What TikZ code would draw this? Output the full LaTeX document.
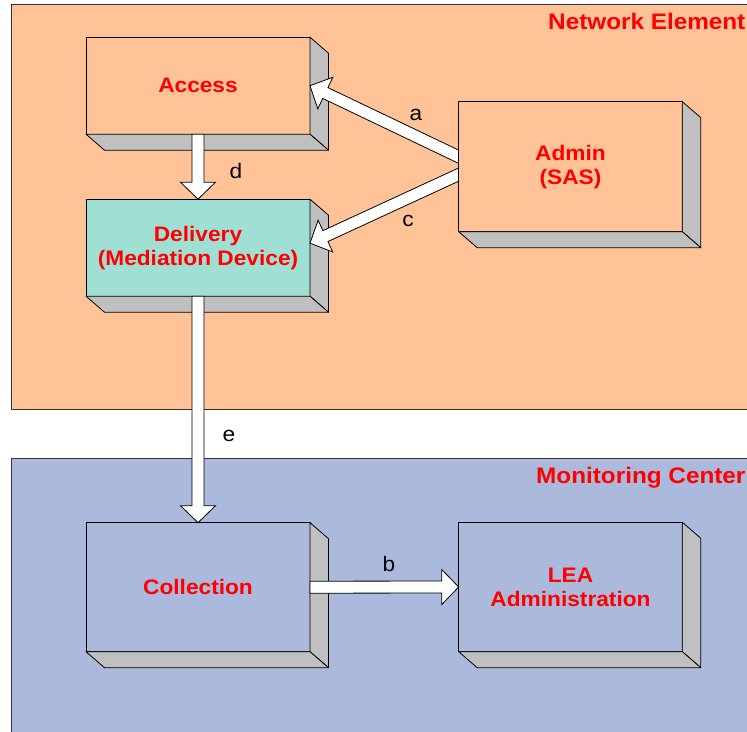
\documentclass[tikz,border=0pt]{standalone}
\usepackage{fontspec}
\setmainfont[FakeStretch=1.08]{Liberation Sans}
\usetikzlibrary{calc}

\definecolor{neorange}{RGB}{255,195,151}
\definecolor{mcblue}{RGB}{170,185,220}
\definecolor{medteal}{RGB}{160,224,212}
\definecolor{sidegray}{RGB}{192,192,192}

\pgfdeclarelayer{top}
\pgfsetlayers{main,top}

\tikzset{
  region/.style={draw=black!80, line width=0.8pt},
  frontbox/.style={draw=black, line width=0.8pt, minimum width=224pt, inner sep=0pt,
    outer sep=0pt, align=center, text=red,
    font=\fontsize{21}{24}\selectfont\bfseries},
  depthface/.style={fill=sidegray, draw=black, line width=0.8pt, line join=round},
  blk/.style={fill=white, draw=black, line width=0.8pt, line join=miter},
  lbl/.style={anchor=base, font=\fontsize{21}{24}\selectfont, inner sep=0pt},
  regiontitle/.style={anchor=base west, text=red, inner sep=0pt,
    font=\fontsize{22.5}{26}\selectfont\bfseries},
}

% gray right and bottom faces of a raised box
\newcommand\depthfaces[1]{%
  \draw[depthface] (#1.north east) -- ++(18.5,16) -- ($(#1.south east)+(18.5,16)$)
    -- (#1.south east) -- cycle;
  \draw[depthface] (#1.south west) -- (#1.south east) -- ++(18.5,16)
    -- ($(#1.south west)+(18.5,16)$) -- cycle;}

% wide hollow arrow from #1 to the tip #2
\newcommand\blockarrow[2]{%
  \path ($(#2)!17pt!(#1)$) coordinate (hb);
  \draw[blk] ($(#1)!6pt!90:(#2)$) -- ($(hb)!6pt!90:(#2)$) -- ($(hb)!17.5pt!90:(#2)$)
    -- (#2) -- ($(hb)!17.5pt!-90:(#2)$) -- ($(hb)!6pt!-90:(#2)$)
    -- ($(#1)!6pt!-90:(#2)$) -- cycle;}

\begin{document}
\begin{tikzpicture}[x=1pt,y=-1pt]
\useasboundingbox (0,0) rectangle (747,731);
\clip (0,0) rectangle (747,731);

% the two domains
\draw[region, fill=neorange] (11,4) rectangle (780,409);
\draw[region, fill=mcblue] (11,458) rectangle (780,760);
\node[regiontitle] (netel) at (548,29.5) {Network Element};
\node[regiontitle] (moncen) at (536,483.5) {Monitoring Center};

% boxes below the arrows
\node[frontbox, fill=neorange, minimum height=97pt] (access) at (198,85.7) {Access};
\depthfaces{access}
\node[frontbox, fill=medteal, minimum height=97pt] (delivery) at (198,247.7)
  {Delivery\\(Mediation Device)};
\depthfaces{delivery}
\node[frontbox, fill=mcblue, minimum height=129pt] (collection) at (198,587.2) {Collection};
\depthfaces{collection}
\node[frontbox, fill=mcblue, minimum width=223.6pt, minimum height=129.4pt] (lea)
  at (570.5,587) {LEA\\Administration};
\depthfaces{lea}

% admin box sits above the arrows leaving it
\begin{pgfonlayer}{top}
\node[frontbox, fill=neorange, minimum width=223.6pt, minimum height=130pt] (admin)
  at (570.5,166.7) {Admin\\(SAS)};
\depthfaces{admin}
\end{pgfonlayer}

% interfaces
\coordinate (aStart) at ($(admin.west)+(4,-8)$);
\coordinate (cStart) at ($(admin.west)+(4,6)$);
\coordinate (cTip) at ($(delivery.east)+(0,-4.5)$);
\blockarrow{aStart}{access.east}
\blockarrow{cStart}{cTip}
\blockarrow{access.south}{delivery.north}
\blockarrow{delivery.south}{collection.north}
\blockarrow{collection.east}{lea.west}

\node[lbl] (la) at (416,120.7) {a};
\node[lbl] (ld) at (236,178) {d};
\node[lbl] (lc) at (408,226.7) {c};
\node[lbl] (le) at (229,441.7) {e};
\node[lbl] (lb) at (389,571) {b};
\end{tikzpicture}
\end{document}
